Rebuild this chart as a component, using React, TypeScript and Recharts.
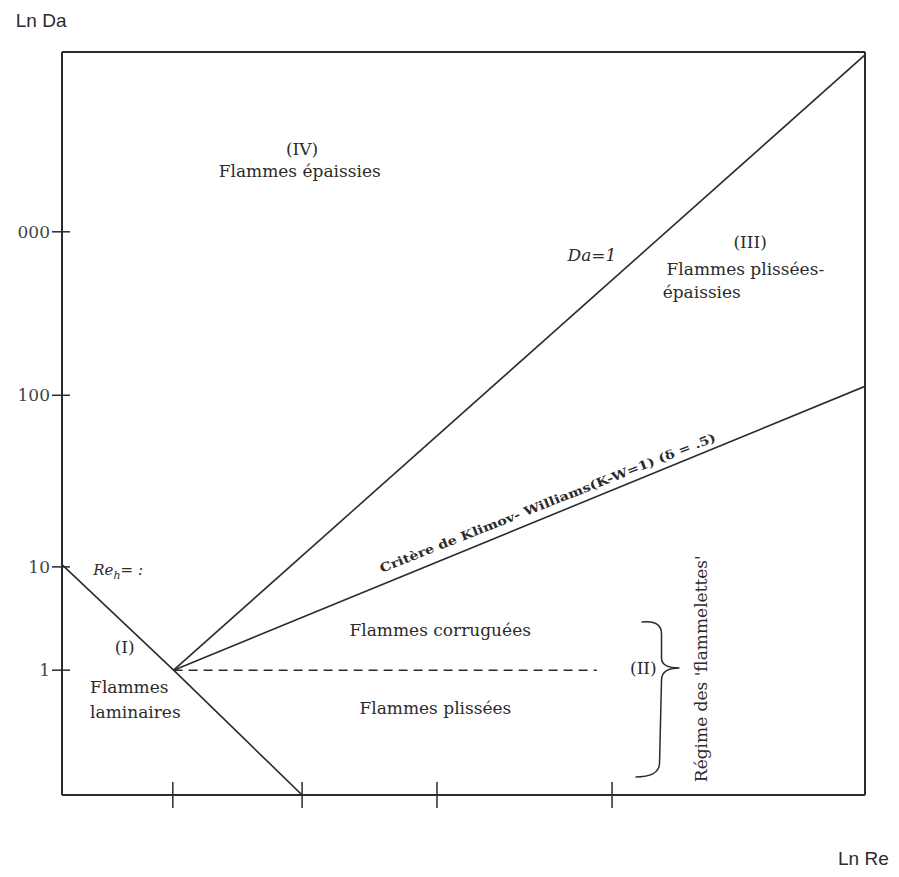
import React from "react";
import { LineChart, Line, XAxis, YAxis, ReferenceLine, ReferenceDot } from "recharts";

// schematic coordinates: both axes run 0..100 across the frame
const reLine = [
  { x: 0, y: 31.0 },
  { x: 13.9, y: 16.8 },
  { x: 29.9, y: 0 },
];
const daLine = [
  { x: 13.9, y: 16.8 },
  { x: 100, y: 99.6 },
];
const kwLine = [
  { x: 13.9, y: 16.8 },
  { x: 100, y: 55.0 },
];
const dashLine = [
  { x: 13.9, y: 16.8 },
  { x: 66.6, y: 16.8 },
];

const yTicks = [16.8, 30.7, 53.8, 75.8];
const yTickLabels = ["1", "10", "100", "000"];
const xTicks = [13.8, 29.9, 46.7, 68.5];

interface Note {
  x: number;
  y: number;
  text: string;
  sub?: string;
  after?: string;
  anchor?: "start" | "middle" | "end";
  italic?: boolean;
  angle?: number;
  size?: number;
  sans?: boolean;
  bold?: boolean;
  len?: number;
}

const notes: Note[] = [
  { x: 29.9, y: 87.0, text: "(IV)" },
  { x: 29.6, y: 84.0, text: "Flammes épaissies" },
  { x: 66.0, y: 72.7, text: "Da=1", italic: true },
  { x: 85.7, y: 74.4, text: "(III)" },
  { x: 85.1, y: 70.8, text: "Flammes plissées-" },
  { x: 74.8, y: 67.7, text: "épaissies", anchor: "start" },
  { x: 3.9, y: 30.3, text: "Re", sub: "h", after: "= :", anchor: "start", italic: true, size: 15 },
  { x: 7.8, y: 19.9, text: "(I)" },
  { x: 3.5, y: 14.6, text: "Flammes", anchor: "start" },
  { x: 3.5, y: 11.2, text: "laminaires", anchor: "start" },
  { x: 47.1, y: 22.2, text: "Flammes corruguées" },
  { x: 46.5, y: 11.7, text: "Flammes plissées" },
  { x: 72.4, y: 17.1, text: "(II)" },
  { x: 79.6, y: 17.0, text: "Régime des 'flammelettes'", angle: -90 },
  {
    x: 60.5,
    y: 39.3,
    text: "Critère de Klimov- Williams(K-W=1) (δ = .5)",
    angle: -21.5,
    size: 12,
    bold: true,
    len: 360,
  },
  { x: -2.6, y: 104.2, text: "Ln Da", sans: true, size: 19 },
  { x: 99.8, y: -8.6, text: "Ln Re", sans: true, size: 19 },
];

const ink = "#2b2b2b";
const serif = "'DejaVu Serif', serif";

function YTick(props: any) {
  const { x, y, payload, index } = props;
  return (
    <g>
      <line x1={x - 10} x2={x + 8} y1={y} y2={y} stroke={ink} strokeWidth={1.5} />
      <text
        x={x - 12}
        y={y}
        textAnchor="end"
        dominantBaseline="central"
        fontFamily={serif}
        fontSize={17}
        fill="#444"
      >
        {yTickLabels[index] ?? payload.value}
      </text>
    </g>
  );
}

function XTick(props: any) {
  const { x, y } = props;
  return <line x1={x} x2={x} y1={y - 13} y2={y + 13} stroke={ink} strokeWidth={1.5} />;
}

function noteShape(n: Note) {
  return (p: any) => {
    const { cx, cy } = p;
    return (
      <text
        x={cx}
        y={cy}
        textAnchor={n.anchor ?? "middle"}
        dominantBaseline="central"
        fontFamily={n.sans ? "'Liberation Sans', sans-serif" : serif}
        fontSize={n.size ?? 17}
        fontStyle={n.italic ? "italic" : "normal"}
        fontWeight={n.bold ? 700 : 400}
        fill={ink}
        transform={n.angle ? `rotate(${n.angle}, ${cx}, ${cy})` : undefined}
        textLength={n.len}
        lengthAdjust={n.len ? "spacingAndGlyphs" : undefined}
      >
        {n.text}
        {n.sub && (
          <tspan fontSize={11} dy={5}>
            {n.sub}
          </tspan>
        )}
        {n.after && <tspan dy={-5}>{n.after}</tspan>}
      </text>
    );
  };
}

function Brace(p: any) {
  const { cx, cy } = p;
  const d = `M ${cx - 38} ${cy - 46} Q ${cx - 18} ${cy - 48} ${cx - 18} ${cy - 34}
    L ${cx - 18} ${cy - 10} Q ${cx - 18} ${cy} ${cx} ${cy}
    Q ${cx - 18} ${cy} ${cx - 18} ${cy + 12}
    L ${cx - 20} ${cy + 96} Q ${cx - 21} ${cy + 109} ${cx - 44} ${cy + 109}`;
  return <path d={d} fill="none" stroke={ink} strokeWidth={1.5} />;
}

export default function App() {
  return (
    <div style={{ position: "absolute", left: 0, top: 0, width: 899, height: 877, background: "#fff" }}>
      <LineChart width={899} height={877} margin={{ top: 52, right: 34, bottom: 0, left: 0 }}>
        <XAxis
          type="number"
          dataKey="x"
          domain={[0, 100]}
          ticks={xTicks}
          tick={<XTick />}
          tickSize={0}
          tickMargin={0}
          tickLine={false}
          height={82}
          axisLine={{ stroke: ink, strokeWidth: 2 }}
          allowDataOverflow
        />
        <YAxis
          type="number"
          dataKey="y"
          domain={[0, 100]}
          ticks={yTicks}
          tick={<YTick />}
          tickSize={0}
          tickMargin={0}
          tickLine={false}
          width={62}
          axisLine={{ stroke: ink, strokeWidth: 2 }}
          allowDataOverflow
        />
        <ReferenceLine y={100} stroke={ink} strokeWidth={2} />
        <ReferenceLine x={100} stroke={ink} strokeWidth={2} />
        <Line data={reLine} dataKey="y" stroke={ink} strokeWidth={1.6} dot={false} isAnimationActive={false} />
        <Line data={daLine} dataKey="y" stroke={ink} strokeWidth={1.6} dot={false} isAnimationActive={false} />
        <Line data={kwLine} dataKey="y" stroke={ink} strokeWidth={1.6} dot={false} isAnimationActive={false} />
        <Line
          data={dashLine}
          dataKey="y"
          stroke={ink}
          strokeWidth={1.6}
          strokeDasharray="9 6"
          dot={false}
          isAnimationActive={false}
        />
        <ReferenceDot x={76.9} y={17.1} r={1} ifOverflow="visible" shape={Brace} />
        {notes.map((n, i) => (
          <ReferenceDot key={i} x={n.x} y={n.y} r={1} ifOverflow="visible" shape={noteShape(n)} />
        ))}
      </LineChart>
    </div>
  );
}
